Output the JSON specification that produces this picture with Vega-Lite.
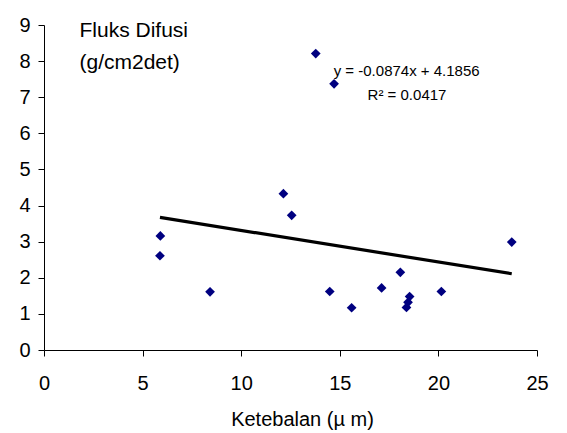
{
  "$schema": "https://vega.github.io/schema/vega-lite/v6.json",
  "width": 493,
  "height": 325,
  "autosize": {"type": "none"},
  "padding": {"left": 44, "top": 25, "right": 30, "bottom": 83},
  "background": "white",
  "config": {
    "view": {"stroke": null},
    "font": "Liberation Sans",
    "axis": {
      "grid": false,
      "domainColor": "black",
      "domainWidth": 1,
      "tickColor": "black",
      "tickSize": 6,
      "labelColor": "black",
      "labelFont": "Liberation Sans",
      "labelFontSize": 20,
      "titleColor": "black",
      "titleFont": "Liberation Sans",
      "titleFontSize": 20,
      "titleFontWeight": "normal"
    }
  },
  "datasets": {
    "fluks": [
      {"tebal": 5.90, "fluks": 3.16},
      {"tebal": 5.88, "fluks": 2.61},
      {"tebal": 8.42, "fluks": 1.61},
      {"tebal": 12.14, "fluks": 4.33},
      {"tebal": 12.56, "fluks": 3.73},
      {"tebal": 13.78, "fluks": 8.21},
      {"tebal": 14.71, "fluks": 7.37},
      {"tebal": 14.49, "fluks": 1.62},
      {"tebal": 15.60, "fluks": 1.17},
      {"tebal": 17.12, "fluks": 1.72},
      {"tebal": 18.07, "fluks": 2.15},
      {"tebal": 18.54, "fluks": 1.48},
      {"tebal": 18.46, "fluks": 1.32},
      {"tebal": 18.38, "fluks": 1.18},
      {"tebal": 20.15, "fluks": 1.62},
      {"tebal": 23.72, "fluks": 2.99}
    ],
    "trend": [
      {"tebal": 5.88, "fluks": 3.6717},
      {"tebal": 23.72, "fluks": 2.1125}
    ],
    "persamaan": [
      {"tebal": 14.69, "fluks": 7.58, "teks": "y = -0.0874x + 4.1856"},
      {"tebal": 16.41, "fluks": 6.91, "teks": "R² = 0.0417"}
    ]
  },
  "encoding": {
    "x": {
      "field": "tebal",
      "type": "quantitative",
      "scale": {"domain": [0, 25], "nice": false, "zero": false},
      "axis": {
        "values": [0, 5, 10, 15, 20, 25],
        "labelOverlap": false,
        "labelFlush": false,
        "labelBaseline": "alphabetic",
        "labelPadding": 33,
        "title": "Ketebalan (µ m)",
        "titleX": 258,
        "titleY": 75,
        "titleBaseline": "alphabetic"
      }
    },
    "y": {
      "field": "fluks",
      "type": "quantitative",
      "scale": {"domain": [0, 9], "nice": false, "zero": false},
      "axis": {
        "tickCount": 10,
        "tickMinStep": 1,
        "labelOverlap": false,
        "labelFlush": false,
        "labelPadding": 8,
        "title": ["Fluks Difusi", "(g/cm2det)"],
        "titleAngle": 0,
        "titleAlign": "left",
        "titleBaseline": "alphabetic",
        "titleFontSize": 21,
        "titleX": 35,
        "titleY": 11,
        "titleLineHeight": 32
      }
    }
  },
  "layer": [
    {
      "data": {"name": "trend"},
      "mark": {"type": "line", "color": "black", "strokeWidth": 3.2}
    },
    {
      "data": {"name": "fluks"},
      "mark": {"type": "point", "shape": "diamond", "filled": true, "size": 95, "color": "#000080", "opacity": 1}
    },
    {
      "data": {"name": "persamaan"},
      "mark": {"type": "text", "align": "left", "baseline": "alphabetic", "fontSize": 15, "font": "Liberation Sans", "color": "black"},
      "encoding": {
        "text": {"field": "teks"}
      }
    }
  ]
}
